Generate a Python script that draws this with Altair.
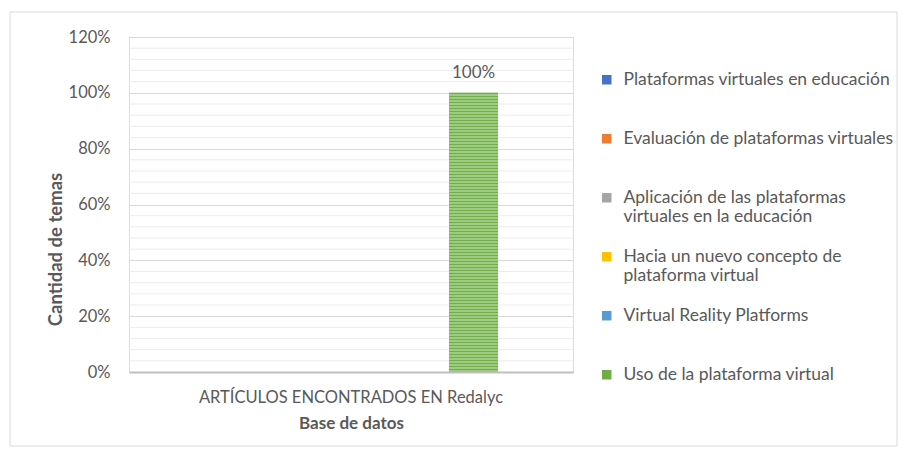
import altair as alt
import pandas as pd

category = "ARTÍCULOS ENCONTRADOS EN Redalyc"
series = [
    "Plataformas virtuales en educación",
    "Evaluación de plataformas virtuales",
    "Aplicación de las plataformas\nvirtuales  en la educación",
    "Hacia un nuevo concepto de\nplataforma virtual",
    "Virtual Reality Platforms",
    "Uso de la plataforma virtual",
]
values = [0, 0, 0, 0, 0, 1.0]
colors = ["#4472c4", "#ed7d31", "#a5a5a5", "#ffc000", "#5b9bd5", "#70ad47"]
y_major = [0, 0.2, 0.4, 0.6, 0.8, 1.0, 1.2]
y_minor = [0.04, 0.08, 0.12, 0.16, 0.24, 0.28, 0.32, 0.36, 0.44, 0.48, 0.52, 0.56,
           0.64, 0.68, 0.72, 0.76, 0.84, 0.88, 0.92, 0.96, 1.04, 1.08, 1.12, 1.16]

df = pd.DataFrame({"cat": [category] * len(series), "series": series, "value": values})

FONT = "Lato"
GRAY = "#595959"

x_enc = alt.X(
    "cat:N",
    scale=alt.Scale(paddingInner=0, paddingOuter=0.255),
    axis=alt.Axis(
        title="Base de datos", labelAngle=0, ticks=False, labelPadding=17, labelLimit=500,
        labelFontSize=16.5, labelColor=GRAY, labelFont=FONT, labelFontWeight="normal",
        titleFont=FONT, titleFontSize=17, titleColor=GRAY, titleFontWeight="bold",
        titlePadding=10, domainColor="#bfbfbf", domainWidth=2, grid=False,
    ),
)
xoff_enc = alt.XOffset("series:N", sort=series, scale=alt.Scale(paddingInner=0, paddingOuter=0))
y_scale = alt.Scale(domain=[0, 1.2], nice=False)
y_axis = alt.Axis(
    title="Cantidad de temas", values=y_major, format=".0%", ticks=False, domain=False,
    labelOverlap=False, gridColor="#d9d9d9",
    labelFontSize=16.5, labelColor=GRAY, labelFont=FONT, labelPadding=19,
    titleFont=FONT, titleFontSize=18.5, titleColor=GRAY, titleFontWeight="bold",
    titlePadding=3, titleY=212,
)

minor = alt.Chart(pd.DataFrame({"m": y_minor})).mark_rule(color="#ececec", strokeWidth=1).encode(
    y=alt.Y("m:Q", scale=y_scale, axis=y_axis, title="Cantidad de temas")
)

bars = alt.Chart(df).mark_bar(stroke=None).encode(
    x=x_enc,
    xOffset=xoff_enc,
    y=alt.Y("value:Q", scale=y_scale, axis=y_axis, title="Cantidad de temas"),
    color=alt.condition(
        "datum.series == 'Uso de la plataforma virtual'",
        alt.value("#acd492"),
        alt.Color(
            "series:N",
            sort=series,
            scale=alt.Scale(domain=series, range=colors),
            legend=alt.Legend(
                title=None, orient="none", legendX=469, legendY=34,
                symbolType="square", symbolSize=90, symbolStrokeWidth=0,
                labelFont=FONT, labelFontSize=17.5, labelColor=GRAY,
                labelExpr="split(datum.label, '\\n')", labelLimit=400,
                rowPadding=21, labelOffset=8, gridAlign="all",
            ),
        ),
    ),
)

stripes = alt.Chart(df).transform_filter("datum.value > 0").transform_calculate(zero="0").mark_rule(
    color="#6fae48", strokeWidth=49, strokeDash=[1.5, 1.5], strokeCap="butt"
).encode(
    x=alt.X("cat:N"),
    xOffset=alt.XOffset("series:N", sort=series),
    y=alt.Y("value:Q"),
    y2=alt.Y2("zero:Q"),
)

labels = alt.Chart(df).transform_filter("datum.value > 0").mark_text(
    dy=-20, fontSize=17, font=FONT, color=GRAY
).encode(
    x=alt.X("cat:N"),
    xOffset=alt.XOffset("series:N", sort=series),
    y=alt.Y("value:Q"),
    text=alt.Text("value:Q", format=".0%"),
)

border = alt.Chart(pd.DataFrame({"b": [1]})).mark_rect(
    fill="transparent", stroke="#d9d9d9", strokeWidth=1
).encode(
    x=alt.value(-119), x2=alt.value(768), y=alt.value(-25), y2=alt.value(409)
)

chart = alt.layer(border, minor, bars, stripes, labels).properties(
    width=444, height=335, padding={"left": 1, "top": 3, "right": 0, "bottom": 0}
).configure_view(stroke=None).configure(background="white")

chart.save("out.html", embed_options={"renderer": "svg", "actions": False})
